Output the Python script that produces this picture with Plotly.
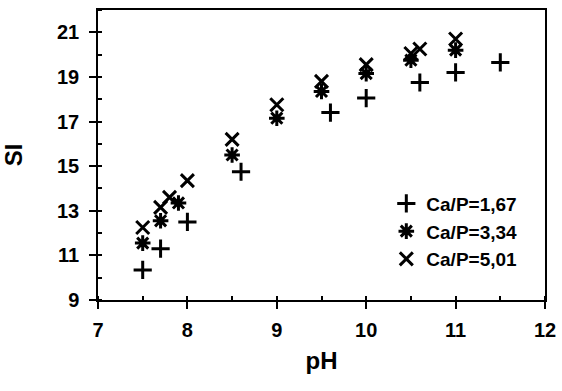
import plotly.graph_objects as go

ph_167 = [7.5, 7.7, 8.0, 8.6, 9.6, 10.0, 10.6, 11.0, 11.5]
si_167 = [10.35, 11.3, 12.5, 14.75, 17.4, 18.05, 18.75, 19.2, 19.65]

ph_334 = [7.5, 7.7, 7.9, 8.5, 9.0, 9.5, 10.0, 10.5, 11.0]
si_334 = [11.55, 12.55, 13.35, 15.5, 17.15, 18.35, 19.15, 19.75, 20.2]

ph_501 = [7.5, 7.7, 7.8, 8.0, 8.5, 9.0, 9.5, 10.0, 10.5, 10.6, 11.0]
si_501 = [12.25, 13.15, 13.6, 14.35, 16.2, 17.75, 18.8, 19.55, 20.05, 20.25, 20.7]

names = ["Ca/P=1,67", "Ca/P=3,34", "Ca/P=5,01"]
x_ticks = [7, 8, 9, 10, 11, 12]
y_ticks = [9, 11, 13, 15, 17, 19, 21]

FONT = "Liberation Sans, Arial, sans-serif"

fig = go.Figure()
series = [(ph_167, si_167, "cross-thin-open"),
          (ph_334, si_334, "asterisk-open"),
          (ph_501, si_501, "x-thin-open")]
for (xs, ys, sym), nm in zip(series, names):
    fig.add_trace(go.Scatter(
        x=xs, y=ys, mode="markers", name=nm,
        marker=dict(symbol=sym, size=13, color="black",
                    line=dict(color="black", width=3)),
    ))

fig.update_layout(
    width=562, height=391,
    margin=dict(l=97.5, r=17, t=10, b=91),
    paper_bgcolor="white", plot_bgcolor="white",
    font=dict(family=FONT, size=20, color="black", weight="bold"),
    showlegend=True,
    legend=dict(x=0.645, y=0.398, xanchor="left", yanchor="top",
                bgcolor="rgba(0,0,0,0)", font=dict(size=19),
                itemwidth=30, tracegroupgap=0),
    xaxis=dict(range=[7, 12], tickvals=x_ticks, ticks="outside", ticklen=7,
               tickwidth=1.5, tickcolor="black", showline=True, linecolor="black",
               linewidth=1.5, mirror=True, showgrid=False, zeroline=False,
               ticklabelstandoff=4, automargin=False,
               minor=dict(dtick=0.5, ticks="inside", ticklen=4, tickcolor="black",
                          showgrid=False),
               title=dict(text="pH", standoff=12),
               ),
    yaxis=dict(range=[9, 22], tickvals=y_ticks, ticks="outside", ticklen=7,
               tickwidth=1.5, tickcolor="black", showline=True, linecolor="black",
               linewidth=1.5, mirror=True, showgrid=False, zeroline=False,
               ticklabelstandoff=6, automargin=False,
               minor=dict(dtick=1, ticks="inside", ticklen=4, tickcolor="black",
                          showgrid=False),
               title=dict(text="SI", standoff=34),
               ),
)

fig.write_html("out.html")
